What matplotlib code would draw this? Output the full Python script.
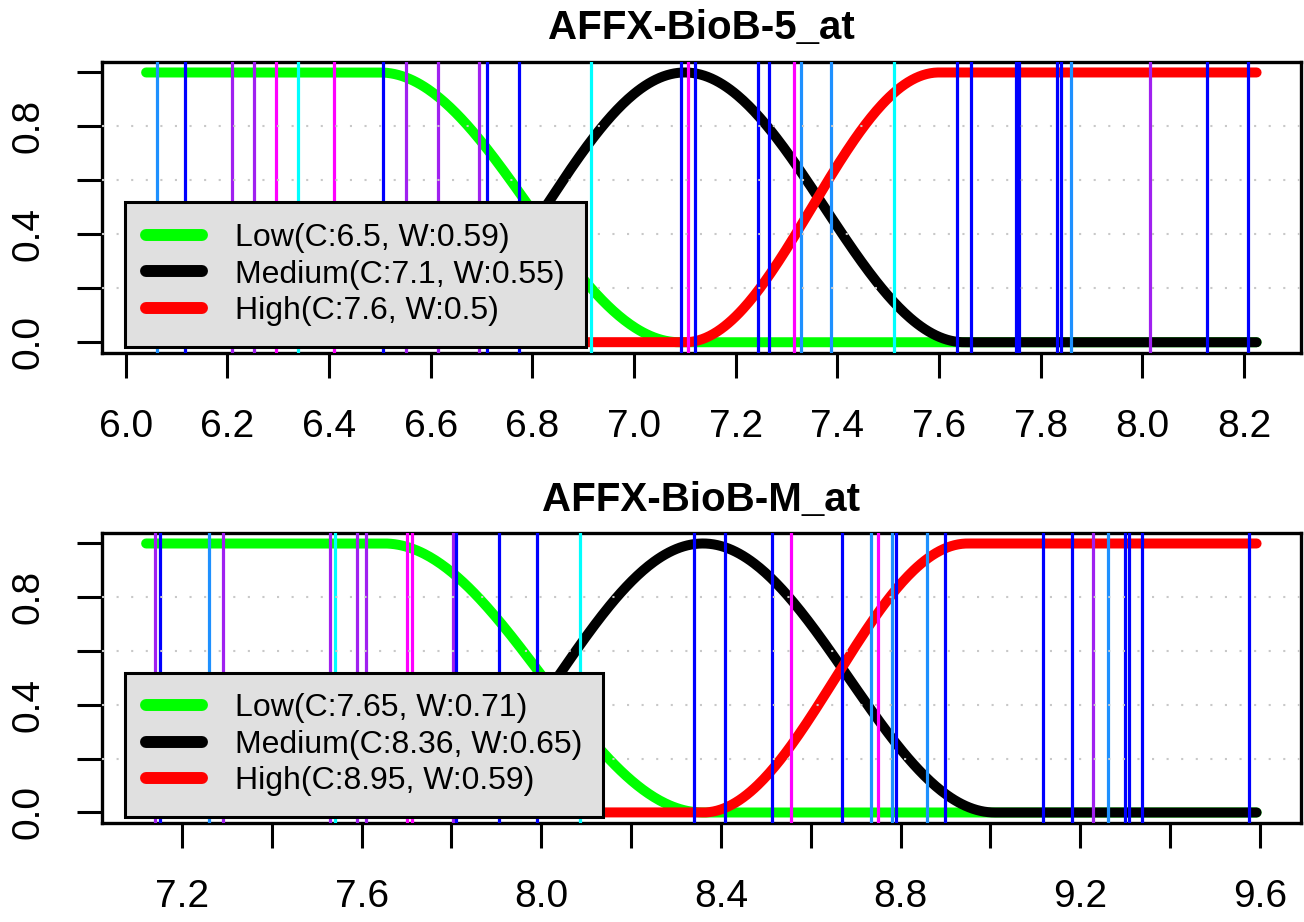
import numpy as np
import matplotlib
matplotlib.use("Agg")
from matplotlib import pyplot as plt

plt.rcParams['font.family'] = ['Liberation Sans', 'DejaVu Sans']

# membership function parameters (centre, width) as given in the legends
titles = ["AFFX-BioB-5_at", "AFFX-BioB-M_at"]
low_cw = [(6.5, 0.59), (7.65, 0.71)]
med_cw = [(7.1, 0.55), (8.36, 0.65)]
high_cw = [(7.6, 0.5), (8.95, 0.59)]
curve_range = [(6.04, 8.225), (7.12, 9.593)]

# sample positions (vertical lines) and their colours
top_x = [6.062, 6.116, 6.208, 6.252, 6.296, 6.338, 6.409, 6.506, 6.551, 6.614,
         6.695, 6.711, 6.773, 6.916, 7.092, 7.107, 7.120, 7.244, 7.266, 7.315,
         7.329, 7.387, 7.512, 7.635, 7.663, 7.751, 7.757, 7.832, 7.840, 7.860,
         8.015, 8.128, 8.209]
top_c = ["dodgerblue", "blue", "purple", "purple", "magenta", "cyan", "magenta", "blue", "purple", "purple",
         "purple", "blue", "blue", "cyan", "blue", "magenta", "blue", "blue", "blue", "magenta",
         "dodgerblue", "dodgerblue", "cyan", "blue", "blue", "blue", "blue", "blue", "blue", "dodgerblue",
         "purple", "blue", "blue"]
bot_x = [7.140, 7.152, 7.261, 7.291, 7.529, 7.540, 7.590, 7.609, 7.700, 7.713,
         7.804, 7.810, 7.906, 7.990, 8.087, 8.340, 8.410, 8.513, 8.557, 8.669,
         8.734, 8.749, 8.780, 8.789, 8.860, 8.899, 9.117, 9.182, 9.228, 9.261,
         9.300, 9.308, 9.337, 9.576]
bot_c = ["purple", "blue", "dodgerblue", "purple", "purple", "cyan", "purple", "purple", "magenta", "magenta",
         "purple", "blue", "blue", "blue", "cyan", "blue", "blue", "blue", "magenta", "blue",
         "dodgerblue", "magenta", "dodgerblue", "blue", "dodgerblue", "blue", "blue", "blue", "purple", "dodgerblue",
         "blue", "blue", "blue", "blue"]

top_ticks = [6.0, 6.2, 6.4, 6.6, 6.8, 7.0, 7.2, 7.4, 7.6, 7.8, 8.0, 8.2]
bot_ticks = [7.2, 7.4, 7.6, 7.8, 8.0, 8.2, 8.4, 8.6, 8.8, 9.0, 9.2, 9.4, 9.6]

R_COLORS = {"blue": "#0000FF", "purple": "#A020F0", "magenta": "#FF00FF",
            "cyan": "#00FFFF", "dodgerblue": "#1E90FF"}


def falling(x, c, w):
    t = np.clip((x - c) / w, 0, 1)
    return (1 + np.cos(np.pi * t)) / 2


def rising(x, c, w):
    t = np.clip((x - (c - w)) / w, 0, 1)
    return (1 - np.cos(np.pi * t)) / 2


def medium(x, c, w):
    return np.where(x < c, rising(x, c, w), falling(x, c, w))


fig = plt.figure(figsize=(13.04, 9.22), dpi=100)
axes = [fig.add_axes([0.078, 0.6171, 0.9197, 0.3160]),
        fig.add_axes([0.078, 0.1071, 0.9197, 0.3151])]

panels = [(top_x, top_c, top_ticks, top_ticks), (bot_x, bot_c, bot_ticks, bot_ticks[::2])]

for i, ax in enumerate(axes):
    xs, cs, ticks, labelled = panels[i]
    lo, hi = curve_range[i]
    x = np.linspace(lo, hi, 600)
    kw = dict(lw=7.2, solid_capstyle='round', zorder=2)
    ax.plot(x, falling(x, *low_cw[i]), color="#00FF00",
            label="Low(C:%g, W:%g)" % low_cw[i], **kw)
    ax.plot(x, medium(x, *med_cw[i]), color="black",
            label="Medium(C:%g, W:%g)" % med_cw[i], **kw)
    ax.plot(x, rising(x, *high_cw[i]), color="#FF0000",
            label="High(C:%g, W:%g)" % high_cw[i], **kw)
    for xv, cv in zip(xs, cs):
        ax.axvline(xv, color=R_COLORS[cv], lw=2.3, zorder=3)
    for yv in [0.2, 0.4, 0.6, 0.8]:
        ax.axhline(yv, color="#c8c8c8", lw=1.5, ls=(0, (1, 6)), zorder=4)

    span = hi - lo
    ax.set_xlim(lo - 0.04 * span, hi + 0.04 * span)
    ax.set_ylim(-0.04, 1.04)
    ax.set_xticks(ticks)
    ax.set_xticklabels(["%.1f" % t if t in labelled else "" for t in ticks])
    ax.set_yticks([0, 0.2, 0.4, 0.6, 0.8, 1.0])
    ax.set_yticklabels(["0.0", "", "0.4", "", "0.8", ""], rotation=90, va='center')
    ax.tick_params(axis='both', length=18, width=2.2, labelsize=28, pad=22)
    for s in ax.spines.values():
        s.set_linewidth(2.4)
    ax.set_title(titles[i], fontsize=29, fontweight='bold', pad=16)

    leg = ax.legend(loc='lower left', bbox_to_anchor=(0.0194, 0.0216), borderaxespad=0,
                    fontsize=23, handlelength=1.75, handletextpad=1.05,
                    borderpad=0.65, labelspacing=0.2, fancybox=False,
                    framealpha=1, facecolor="#E0E0E0", edgecolor="black")
    leg.get_frame().set_linewidth(2.2)
    leg.set_zorder(10)
    for h in leg.get_lines():
        h.set_linewidth(8.6)
        h.set_solid_capstyle('round')

fig.savefig("out.png", dpi=100)
